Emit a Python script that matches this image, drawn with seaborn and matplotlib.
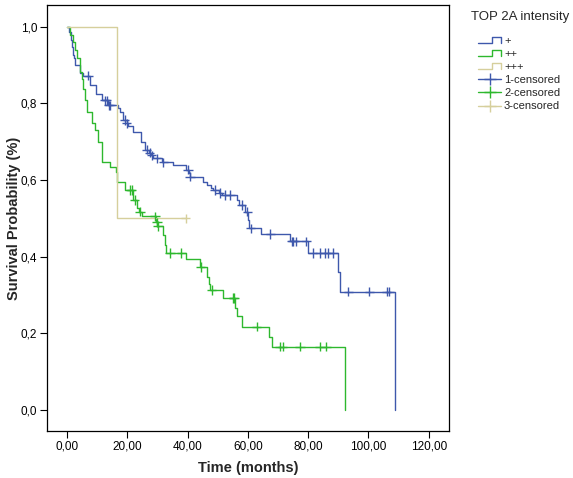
import numpy as np
import pandas as pd
import matplotlib
matplotlib.use("Agg")
import matplotlib.pyplot as plt
from matplotlib.lines import Line2D
from matplotlib.legend_handler import HandlerBase
import seaborn as sns

# --- datos (Kaplan-Meier por intensidad TOP 2A) ---
groups = ["+", "++", "+++"]
colors = ["#3E58AC", "#2EB82E", "#D6CF9C"]

# grupo "+": tiempos de evento y supervivencia despues de cada evento
t_plus = [0, 0.7, 1.3, 1.6, 1.9, 2.5, 2.7, 4.3, 5.4, 7.6, 9.6, 11.5, 13.5, 17.0, 17.6,
          18.5, 19.8, 20.3, 22.0, 24.7, 25.9, 27.2, 28.0, 28.6, 31.5, 35.3, 39.5, 40.5,
          40.7, 45.2, 46.5, 47.8, 48.5, 50.3, 51.5, 56.3, 57.0, 59.0, 60.0, 60.5, 64.3,
          74.0, 79.8, 90.0, 90.5, 108.8]
s_plus = [1.0, 0.987, 0.966, 0.948, 0.926, 0.918, 0.900, 0.880, 0.873, 0.848, 0.826, 0.808,
          0.795, 0.787, 0.778, 0.757, 0.748, 0.740, 0.725, 0.700, 0.679, 0.672, 0.665, 0.657,
          0.646, 0.640, 0.627, 0.618, 0.609, 0.596, 0.588, 0.579, 0.574, 0.566, 0.561, 0.548,
          0.535, 0.518, 0.496, 0.474, 0.459, 0.440, 0.410, 0.359, 0.309, 0.0]
c_plus = [7.1, 12.6, 13.2, 13.8, 14.3, 19.2, 19.8, 26.4, 27.5, 28.1, 29.8, 32.0, 40.2, 40.8,
          49.1, 50.7, 52.4, 54.1, 58.0, 59.8, 60.9, 67.5, 74.5, 75.0, 75.9, 79.3, 81.5,
          83.9, 85.6, 86.7, 88.4, 93.3, 100.3, 106.0, 106.9]

# grupo "++"
t_pp = [0, 0.9, 2.0, 2.7, 3.2, 4.3, 4.9, 5.3, 6.0, 6.6, 8.3, 9.3, 10.4, 11.5, 11.7, 14.3,
        16.2, 16.6, 19.3, 22.0, 23.1, 23.8, 24.8, 29.5, 30.0, 31.8, 32.5, 33.0, 39.5, 44.0,
        46.3, 47.0, 47.6, 51.8, 55.8, 56.3, 58.0, 67.1, 67.9, 92.2]
s_pp = [1.0, 0.978, 0.960, 0.940, 0.918, 0.883, 0.864, 0.838, 0.810, 0.778, 0.750, 0.730,
        0.700, 0.670, 0.648, 0.635, 0.622, 0.596, 0.574, 0.548, 0.527, 0.518, 0.505, 0.490,
        0.480, 0.457, 0.430, 0.410, 0.393, 0.373, 0.348, 0.330, 0.313, 0.292, 0.266, 0.244,
        0.217, 0.190, 0.165, 0.0]
c_pp = [21.0, 21.5, 22.5, 24.2, 29.2, 29.9, 30.2, 34.2, 38.0, 44.4, 48.0, 55.2, 55.4, 62.9,
        70.6, 71.5, 77.3, 83.9, 85.9]

# grupo "+++"
t_ppp = [0, 16.7]
s_ppp = [1.0, 0.5]
c_ppp = [39.4]

xticks = [0, 20, 40, 60, 80, 100, 120]
yticks = [0.0, 0.2, 0.4, 0.6, 0.8, 1.0]

times = [t_plus, t_pp, t_ppp]
survs = [s_plus, s_pp, s_ppp]
cens = [c_plus, c_pp, c_ppp]

curve_rows = []
cens_rows = []
for g, t, s, c in zip(groups, times, survs, cens):
    t = list(t)
    s = list(s)
    if max(c) > t[-1]:
        t.append(max(c))
        s.append(s[-1])
    for ti, si in zip(t, s):
        curve_rows.append({"grupo": g, "tiempo": ti, "surv": si})
    for ci in c:
        idx = np.searchsorted(t, ci, side="right") - 1
        cens_rows.append({"grupo": g, "tiempo": ci, "surv": s[idx]})

curves = pd.DataFrame(curve_rows)
censored = pd.DataFrame(cens_rows)
pal = dict(zip(groups, colors))

sns.set_style("white")
plt.rcParams["font.family"] = ["Liberation Sans", "DejaVu Sans"]

fig = plt.figure(figsize=(5.73, 4.78), dpi=100)
ax = fig.add_axes([0.082, 0.0983, 0.7016, 0.8912])

sns.lineplot(data=curves, x="tiempo", y="surv", hue="grupo", palette=pal,
             estimator=None, sort=False, drawstyle="steps-post", linewidth=1.0,
             legend=False, ax=ax)
sns.scatterplot(data=censored, x="tiempo", y="surv", hue="grupo", palette=pal,
                marker="+", s=45, linewidth=1.0, legend=False, ax=ax, zorder=3)

ax.set_xlim(-6.6, 126.7)
ax.set_ylim(-0.055, 1.057)
ax.set_xticks(xticks)
ax.set_xticklabels([f"{v:.2f}".replace(".", ",") for v in xticks])
ax.set_yticks(yticks)
ax.set_yticklabels([f"{v:.1f}".replace(".", ",") for v in yticks])
ax.tick_params(axis="both", direction="out", length=5, width=0.8, labelsize=8.5,
               pad=2, bottom=True, left=True, colors="black")
for sp in ax.spines.values():
    sp.set_color("black")
    sp.set_linewidth(0.9)
ax.set_xlabel("Time (months)", fontsize=10.5, fontweight="bold", labelpad=6)
ax.set_ylabel("Survival Probability (%)", fontsize=10.5, fontweight="bold", labelpad=0)


# icono escalonado para la leyenda, como en SPSS
class StepHandler(HandlerBase):
    def create_artists(self, legend, orig_handle, xdescent, ydescent, width, height,
                       fontsize, trans):
        x0, x1 = -xdescent, -xdescent + width
        y0, y1 = -ydescent + 0.1 * height, -ydescent + 0.9 * height
        xs = [x0, x0 + 0.6 * width, x0 + 0.6 * width, x1, x1]
        ys = [y0, y0, y1, y1, y0]
        ln = Line2D(xs, ys, color=orig_handle.get_color(), lw=1.0, transform=trans)
        return [ln]


fig.text(0.822, 0.964, "TOP 2A intensity", fontsize=9.5, va="center", ha="left")

step_handles = [Line2D([], [], color=c) for c in colors]
cens_handles = [Line2D([], [], color=c, marker="+", markersize=9, lw=1.0) for c in colors]
labels = groups + ["1-censored", "2-censored", "3-censored"]
hmap = {h: StepHandler() for h in step_handles}
leg = fig.legend(step_handles + cens_handles, labels, handler_map=hmap,
                 loc="upper left", bbox_to_anchor=(0.835, 0.925),
                 frameon=False, fontsize=8, handlelength=2.0,
                 handletextpad=0.3, labelspacing=0.28, borderaxespad=0.0, borderpad=0.0)

fig.savefig("out.png", dpi=100)
